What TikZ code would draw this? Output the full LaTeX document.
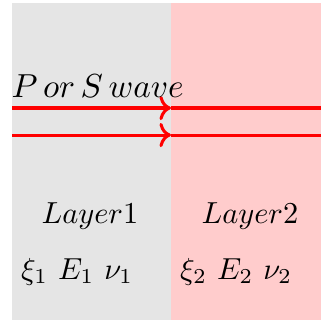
\documentclass[tikz,border=0pt]{standalone}
\usepackage{amsmath,amssymb}
\usetikzlibrary{arrows.meta,positioning}

\begin{document}
\begin{tikzpicture}[
  x=0.329pt, y=-0.329pt,
  layerA/.style={fill=gray!20, draw=none},
  layerB/.style={fill=red!20, draw=none},
  ray/.style={->, red, line width=1pt},
  rayout/.style={red, line width=1pt},
  lbl/.style={inner sep=0pt, anchor=base},
]
\useasboundingbox (0,0) rectangle (321,320);

% Two layers
\fill[layerA] (12,3) rectangle (171,320);
\fill[layerB] (171,3) rectangle (321,320);

% Incident waves
\coordinate (inA) at (12,108);
\coordinate (midA) at (171,108);
\coordinate (outA) at (321,108);
\coordinate (inB) at (12,135);
\coordinate (midB) at (171,135);
\coordinate (outB) at (321,135);

\draw[ray] (inA) -- (midA);
\draw[rayout] (midA) -- (outA);
\draw[ray] (inB) -- (midB);
\draw[rayout] (midB) -- (outB);

\node[lbl, anchor=base west, font=\fontsize{10.7pt}{13pt}\selectfont] (wave) at (11,97)
  {$P\,or\,S\,wave$};

% Layer labels
\node[lbl] (layerone) at (90,223) {$Layer1$};
\node[lbl] (layertwo) at (250,223) {$Layer2$};
\node[lbl] (propone) at (77,279) {$\xi_1\ E_1\ \nu_1$};
\node[lbl] (proptwo) at (236,279) {$\xi_2\ E_2\ \nu_2$};
\end{tikzpicture}
\end{document}
